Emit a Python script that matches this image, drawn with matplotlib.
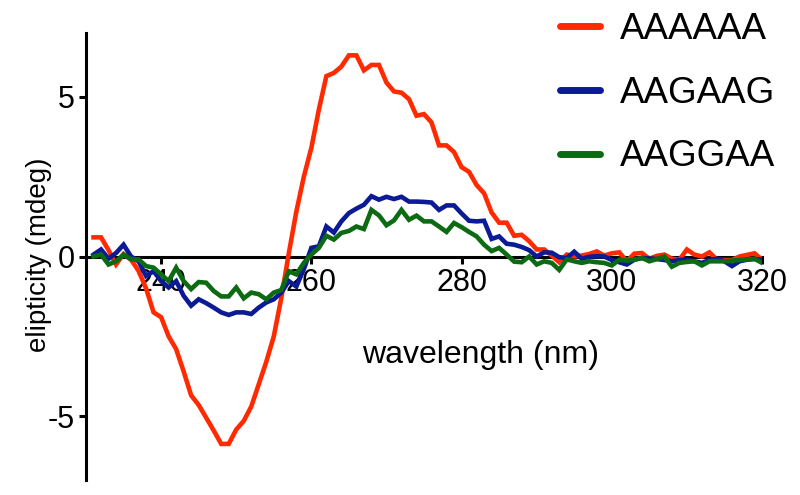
#!/usr/bin/env python3
"""CD spectra of three hexamer sequences"""

import numpy as np
import matplotlib
matplotlib.use('Agg')
import matplotlib.pyplot as plt

plt.rcParams['font.family'] = ['Liberation Sans', 'DejaVu Sans']
plt.rcParams['axes.unicode_minus'] = False

# wavelength in nm, one point per nm
wavelength = np.arange(231, 321)

aaaaaa = [0.6, 0.6, 0.2, -0.25, 0.08, -0.1, -0.45, -1.0, -1.75, -1.9,
          -2.5, -2.9, -3.6, -4.35, -4.65, -5.05, -5.45, -5.87, -5.87, -5.42,
          -5.15, -4.7, -4.0, -3.3, -2.5, -1.3, 0.1, 1.4, 2.5, 3.4,
          4.6, 5.65, 5.75, 5.95, 6.3, 6.3, 5.83, 6.0, 6.0, 5.45,
          5.17, 5.13, 4.93, 4.41, 4.46, 4.2, 3.48, 3.48, 3.27, 2.8,
          2.65, 2.24, 1.98, 1.38, 1.06, 1.06, 0.65, 0.68, 0.48, 0.22,
          0.22, 0.03, -0.18, 0.06, 0.0, 0.03, 0.08, 0.16, 0.03, 0.1,
          0.13, -0.15, 0.09, 0.11, -0.07, 0.02, 0.06, -0.07, -0.1, 0.22,
          0.06, 0.0, 0.13, -0.1, -0.11, -0.11, 0.0, 0.05, 0.1, -0.1]

aagaag = [0.06, 0.22, -0.07, 0.11, 0.37, 0.0, -0.15, -0.61, -0.46, -0.77,
          -0.97, -0.77, -1.23, -1.54, -1.34, -1.46, -1.6, -1.75, -1.83, -1.75,
          -1.75, -1.8, -1.6, -1.44, -1.34, -1.13, -0.77, -0.94, -0.4, 0.27,
          0.32, 0.94, 0.75, 1.1, 1.36, 1.5, 1.62, 1.89, 1.78, 1.87,
          1.8, 1.87, 1.72, 1.72, 1.71, 1.69, 1.46, 1.6, 1.6, 1.35,
          1.12, 1.1, 1.12, 0.55, 0.63, 0.4, 0.37, 0.3, 0.2, 0.0,
          0.13, 0.12, -0.02, -0.05, 0.15, -0.07, -0.01, 0.01, 0.0, -0.11,
          -0.18, -0.25, -0.1, -0.05, -0.06, -0.08, -0.11, -0.15, -0.11, -0.1,
          -0.15, -0.2, -0.11, -0.07, -0.15, -0.3, -0.15, -0.1, -0.08, -0.1]

aaggaa = [0.0, 0.06, -0.25, -0.15, 0.06, -0.09, -0.09, -0.3, -0.35, -0.56,
          -0.77, -0.35, -0.77, -1.02, -0.8, -0.82, -1.08, -1.25, -1.25, -0.97,
          -1.31, -1.13, -1.18, -1.34, -1.13, -1.05, -0.46, -0.56, -0.2, 0.06,
          0.27, 0.65, 0.53, 0.74, 0.8, 0.94, 0.86, 1.46, 1.29, 0.98,
          1.13, 1.46, 1.15, 1.28, 1.1, 1.1, 0.94, 0.77, 1.05, 0.92,
          0.77, 0.63, 0.37, 0.17, 0.27, 0.06, -0.16, -0.18, 0.0, -0.25,
          -0.15, -0.2, -0.42, -0.09, -0.15, -0.2, -0.15, -0.18, -0.2, -0.28,
          -0.1, -0.13, -0.1, -0.04, -0.15, -0.08, 0.0, -0.32, -0.2, -0.17,
          -0.15, -0.28, -0.15, -0.15, -0.15, -0.13, -0.11, -0.09, -0.07, -0.2]

labels = ['AAAAAA', 'AAGAAG', 'AAGGAA']
colors = ['#ff2a00', '#0b1a95', '#0c6b12']

fig = plt.figure(figsize=(8, 4.95), dpi=100)
ax = fig.add_axes([0.1075, 0.0303, 0.845, 0.903])

for y, lab, c in zip([aaaaaa, aagaag, aaggaa], labels, colors):
    ax.plot(wavelength, y, color=c, lw=3.3, label=lab, zorder=3,
            solid_joinstyle='miter')

ax.set_xlim(230, 320)
ax.set_ylim(-7, 7)

# x axis runs through zero, like the prism style
ax.spines['bottom'].set_position(('data', 0))
ax.spines['top'].set_visible(False)
ax.spines['right'].set_visible(False)
for s in ['left', 'bottom']:
    ax.spines[s].set_linewidth(2.2)

ax.set_xticks([240, 260, 280, 300, 320])
ax.set_yticks([-5, 0, 5])
ax.tick_params(axis='both', labelsize=22, width=2.2, length=5, direction='out')
ax.tick_params(axis='x', pad=3.5)
ax.tick_params(axis='y', pad=3)

ax.set_xlabel('wavelength (nm)', fontsize=23)
ax.xaxis.set_label_coords(0.583, 0.314)
ax.set_ylabel('elipticity (mdeg)', fontsize=20)
ax.yaxis.set_label_coords(-0.05, 0.503)

leg = fig.legend(loc='upper left', bbox_to_anchor=(0.70, 1 - 12 / 495),
                 frameon=False, fontsize=26.5, handlelength=1.09,
                 handletextpad=0.54, labelspacing=0.78, borderpad=0,
                 borderaxespad=0)
for h in leg.get_lines():
    h.set_linewidth(5)
    h.set_solid_capstyle('round')

plt.savefig('out.png', dpi=100)
